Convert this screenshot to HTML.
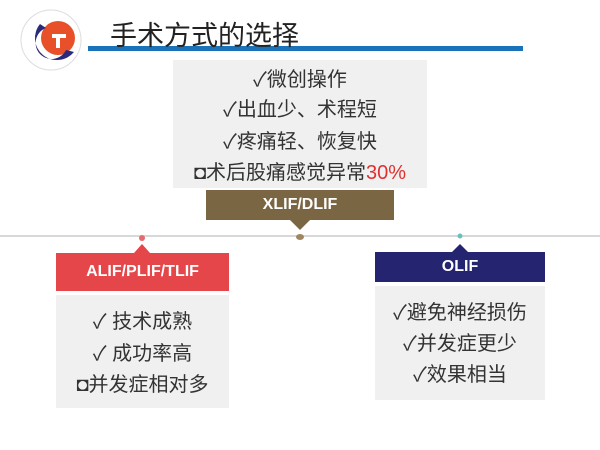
<!DOCTYPE html>
<html><head><meta charset="utf-8"><style>
body{margin:0;width:600px;height:450px;background:#fff;position:relative;overflow:hidden;font-family:"Liberation Sans","Noto Sans CJK SC",sans-serif;}
.a{position:absolute}
.g{background:#f0f0f0}
.t{position:absolute;left:0;right:0;text-align:center;color:#333;font-size:20px;line-height:24px}
.h{position:absolute;color:#fff;font-weight:bold;font-size:16px;text-align:center}
</style></head><body>
<svg class="a" style="left:0;top:0" width="600" height="450">
<circle cx="51" cy="40" r="30" fill="#fff" stroke="#ddd"/>
<circle cx="58" cy="38" r="17" fill="#e8502a"/>
<path d="M40 24 A22 22 0 1 0 74 52 L66 50 A16 16 0 1 1 46 28 Z" fill="#2b2a7a"/>
<rect x="52" y="34" width="14" height="4" fill="#fff"/><rect x="56" y="34" width="4" height="14" fill="#fff"/>
<rect x="88" y="46" width="435" height="5" fill="#1a73b8"/>
<line x1="0" y1="236" x2="600" y2="236" stroke="#ccc" stroke-width="1.5"/>
<polygon points="290,220 310,220 300,230" fill="#7a6643"/>
<ellipse cx="300" cy="237" rx="4" ry="3" fill="#a08660"/>
<circle cx="142" cy="238" r="3" fill="#e46b70"/>
<polygon points="134,253 150,253 142,244" fill="#e5464a"/>
<circle cx="460" cy="236" r="2.5" fill="#6bbfc0"/>
<polygon points="452,252 468,252 460,244" fill="#252470"/>
</svg>
<div class="a" style="left:110px;top:14px;font-size:27px;color:#222">手术方式的选择</div>
<div class="a g" style="left:173px;top:60px;width:254px;height:128px">
<div class="t" style="top:8px">✓微创操作</div>
<div class="t" style="top:38px">✓出血少、术程短</div>
<div class="t" style="top:70px">✓疼痛轻、恢复快</div>
<div class="t" style="top:101px"><b>◘</b>术后股痛感觉异常<span style="color:#e03030">30%</span></div>
</div>
<div class="h" style="left:206px;top:190px;width:188px;height:30px;line-height:30px;background:#7a6643">XLIF/DLIF</div>
<div class="h" style="left:56px;top:253px;width:173px;height:38px;line-height:38px;background:#e5464a">ALIF/PLIF/TLIF</div>
<div class="a g" style="left:56px;top:295px;width:173px;height:113px">
<div class="t" style="top:15px">✓ 技术成熟</div>
<div class="t" style="top:47px">✓ 成功率高</div>
<div class="t" style="top:78px"><b>◘</b>并发症相对多</div>
</div>
<div class="h" style="left:375px;top:252px;width:170px;height:30px;line-height:30px;background:#252470">OLIF</div>
<div class="a g" style="left:375px;top:286px;width:170px;height:114px">
<div class="t" style="top:15px">✓避免神经损伤</div>
<div class="t" style="top:46px">✓并发症更少</div>
<div class="t" style="top:77px">✓效果相当</div>
</div>
</body></html>
